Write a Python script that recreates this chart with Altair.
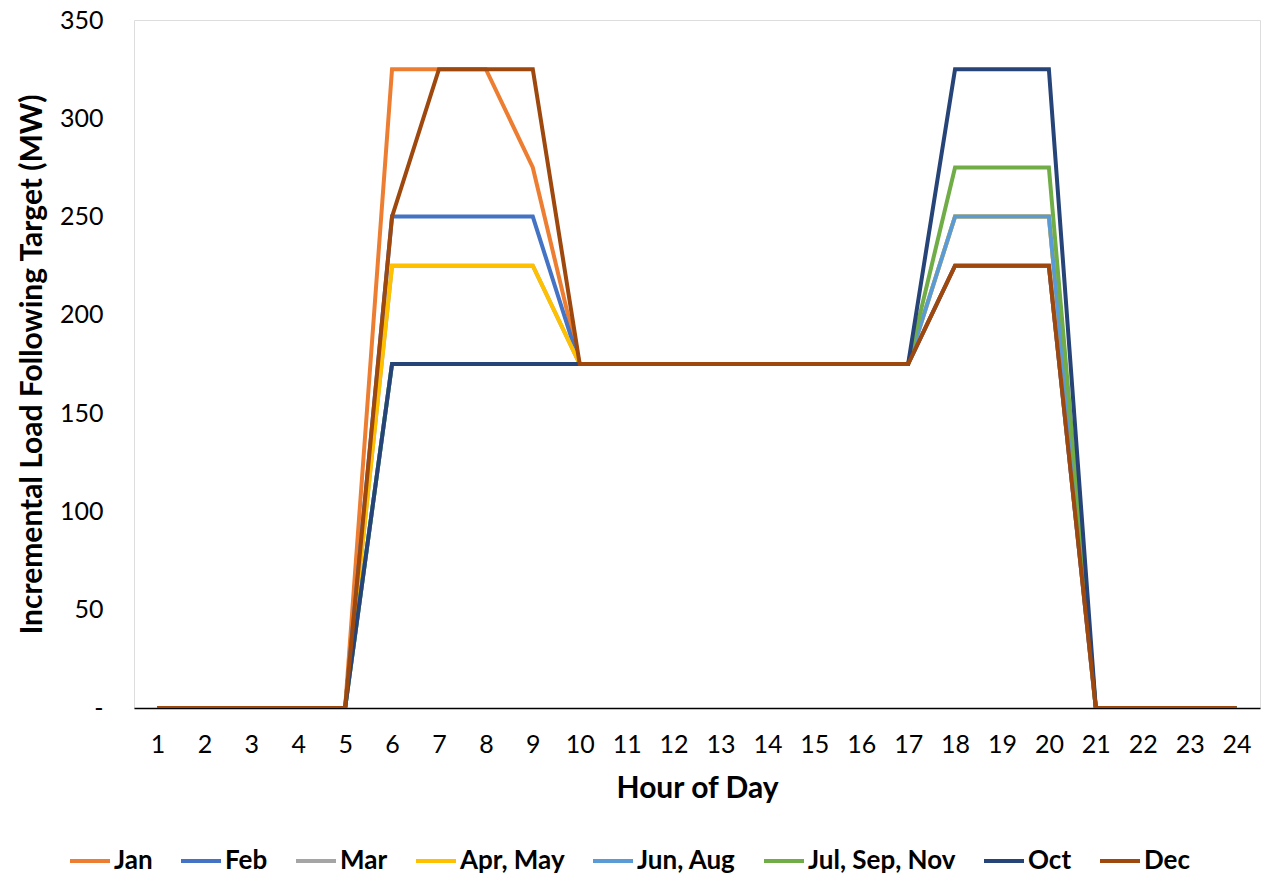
import altair as alt
import pandas as pd

hours = list(range(1, 25))

series_names = ["Jan", "Feb", "Mar", "Apr, May", "Jun, Aug", "Jul, Sep, Nov", "Oct", "Dec"]
series_colors = ["#ED7D31", "#4472C4", "#A5A5A5", "#FFC000", "#5B9BD5", "#70AD47", "#264478", "#9E480E"]

jan = [0, 0, 0, 0, 0, 325, 325, 325, 275, 175, 175, 175, 175, 175, 175, 175, 175, 225, 225, 225, 0, 0, 0, 0]
feb = [0, 0, 0, 0, 0, 250, 250, 250, 250, 175, 175, 175, 175, 175, 175, 175, 175, 225, 225, 225, 0, 0, 0, 0]
mar = [0, 0, 0, 0, 0, 225, 225, 225, 225, 175, 175, 175, 175, 175, 175, 175, 175, 250, 250, 250, 0, 0, 0, 0]
apr_may = [0, 0, 0, 0, 0, 225, 225, 225, 225, 175, 175, 175, 175, 175, 175, 175, 175, 250, 250, 250, 0, 0, 0, 0]
jun_aug = [0, 0, 0, 0, 0, 175, 175, 175, 175, 175, 175, 175, 175, 175, 175, 175, 175, 250, 250, 250, 0, 0, 0, 0]
jul_sep_nov = [0, 0, 0, 0, 0, 175, 175, 175, 175, 175, 175, 175, 175, 175, 175, 175, 175, 275, 275, 275, 0, 0, 0, 0]
oct_ = [0, 0, 0, 0, 0, 175, 175, 175, 175, 175, 175, 175, 175, 175, 175, 175, 175, 325, 325, 325, 0, 0, 0, 0]
dec = [0, 0, 0, 0, 0, 250, 325, 325, 325, 175, 175, 175, 175, 175, 175, 175, 175, 225, 225, 225, 0, 0, 0, 0]

all_values = [jan, feb, mar, apr_may, jun_aug, jul_sep_nov, oct_, dec]

rows = []
for name, vals in zip(series_names, all_values):
    for h, v in zip(hours, vals):
        rows.append({"hour": h, "target": v, "series": name})
df = pd.DataFrame(rows)

FONT = "Lato"

color = alt.Color(
    "series:N",
    scale=alt.Scale(domain=series_names, range=series_colors),
    sort=series_names,
    legend=alt.Legend(
        title=None,
        orient="none",
        direction="horizontal",
        legendX=-66,
        legendY=819,
        symbolType="stroke",
        symbolSize=1600,
        symbolStrokeWidth=4,
        labelFont=FONT,
        labelFontSize=26,
        labelFontWeight="bold",
        labelColor="#000000",
        labelOffset=2,
        columnPadding=20,
        labelLimit=400,
    ),
)

base = alt.Chart(df).mark_line(strokeWidth=4, clip=True).encode(
    x=alt.X(
        "hour:Q",
        scale=alt.Scale(domain=[0.5, 24.5], nice=False, zero=False),
        axis=alt.Axis(
            title="Hour of Day",
            values=hours,
            format="d",
            grid=False,
            ticks=False,
            domainColor="#000000",
            domainWidth=1.5,
            labelFont=FONT,
            labelFontSize=25,
            labelColor="#000000",
            labelPadding=24,
            titleFont=FONT,
            titleFontSize=30,
            titleFontWeight="bold",
            titleColor="#000000",
            titlePadding=16,
        ),
    ),
    y=alt.Y(
        "target:Q",
        scale=alt.Scale(domain=[0, 350], nice=False),
        axis=alt.Axis(
            title="Incremental Load Following Target (MW)",
            values=[0, 50, 100, 150, 200, 250, 300, 350],
            labelExpr="datum.value == 0 ? '-' : datum.label",
            grid=False,
            ticks=False,
            domain=False,
            labelFont=FONT,
            labelFontSize=25,
            labelColor="#000000",
            labelPadding=31,
            titleFont=FONT,
            titleFontSize=30,
            titleFontWeight="bold",
            titleColor="#000000",
            titlePadding=12,
        ),
    ),
    color=color,
)

# one layer per series so that later months are drawn on top
layers = [base.transform_filter(alt.datum.series == s) for s in series_names]

chart = alt.layer(*layers).properties(
    width=1126,
    height=688,
    autosize=alt.AutoSizeParams(type="none"),
    padding={"left": 134, "top": 20, "right": 4, "bottom": 167},
).configure_view(
    stroke="#595959",
    strokeWidth=1.5,
).configure(background="#ffffff")

chart.save("out.html", embed_options={"renderer": "svg", "actions": False})
